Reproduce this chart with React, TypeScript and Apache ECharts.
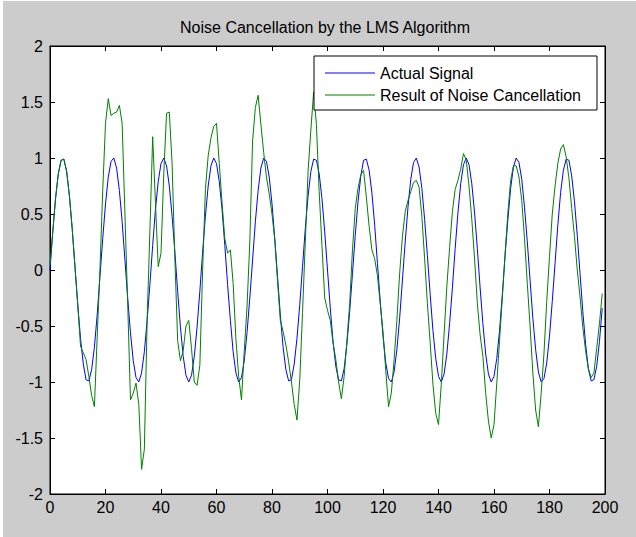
import React, { useEffect, useRef } from "react";
import * as echarts from "echarts";

const titleText = "Noise Cancellation by the LMS Algorithm";
const seriesNames = ["Actual Signal", "Result of Noise Cancellation"];

// sample index 0..199 is the array position
const actualSignal = [
  0.00, 0.34, 0.64, 0.86, 0.98, 0.99, 0.88, 0.66, 0.37, 0.03,
  -0.31, -0.61, -0.84, -0.98, -0.99, -0.89, -0.69, -0.40, -0.06, 0.28,
  0.59, 0.83, 0.97, 1.00, 0.91, 0.71, 0.43, 0.09, -0.25, -0.56,
  -0.81, -0.96, -1.00, -0.92, -0.73, -0.45, -0.13, 0.22, 0.54, 0.79,
  0.95, 1.00, 0.93, 0.75, 0.48, 0.16, -0.19, -0.51, -0.77, -0.94,
  -1.00, -0.94, -0.77, -0.51, -0.19, 0.16, 0.48, 0.75, 0.93, 1.00,
  0.95, 0.79, 0.54, 0.22, -0.13, -0.45, -0.73, -0.92, -1.00, -0.96,
  -0.81, -0.56, -0.25, 0.09, 0.43, 0.71, 0.91, 1.00, 0.97, 0.83,
  0.59, 0.28, -0.06, -0.40, -0.69, -0.89, -0.99, -0.98, -0.84, -0.61,
  -0.31, 0.03, 0.37, 0.66, 0.88, 0.99, 0.98, 0.86, 0.64, 0.34,
  0.00, -0.34, -0.64, -0.86, -0.98, -0.99, -0.88, -0.66, -0.37, -0.03,
  0.31, 0.61, 0.84, 0.98, 0.99, 0.89, 0.69, 0.40, 0.06, -0.28,
  -0.59, -0.83, -0.97, -1.00, -0.91, -0.71, -0.43, -0.09, 0.25, 0.56,
  0.81, 0.96, 1.00, 0.92, 0.73, 0.45, 0.13, -0.22, -0.54, -0.79,
  -0.95, -1.00, -0.93, -0.75, -0.48, -0.16, 0.19, 0.51, 0.77, 0.94,
  1.00, 0.94, 0.77, 0.51, 0.19, -0.16, -0.48, -0.75, -0.93, -1.00,
  -0.95, -0.79, -0.54, -0.22, 0.13, 0.45, 0.73, 0.92, 1.00, 0.96,
  0.81, 0.56, 0.25, -0.09, -0.43, -0.71, -0.91, -1.00, -0.97, -0.83,
  -0.59, -0.28, 0.06, 0.40, 0.69, 0.89, 0.99, 0.98, 0.84, 0.61,
  0.31, -0.03, -0.37, -0.66, -0.88, -0.99, -0.98, -0.86, -0.64, -0.34,
];

const noiseCancelled = [
  0.05, 0.34, 0.64, 0.86, 0.98, 0.99, 0.88, 0.66, 0.37, 0.03,
  -0.31, -0.68, -0.74, -0.80, -0.95, -1.12, -1.22, -0.60, 0.00, 0.71,
  1.31, 1.53, 1.38, 1.40, 1.41, 1.47, 1.31, 0.50, -0.30, -1.16,
  -1.10, -1.01, -1.20, -1.78, -1.60, -0.45, 0.35, 1.19, 0.60, 0.03,
  0.15, 0.86, 1.40, 1.41, 0.95, 0.10, -0.63, -0.81, -0.72, -0.50,
  -0.45, -0.70, -1.00, -1.03, -0.85, 0.00, 0.72, 1.02, 1.18, 1.28,
  1.31, 0.95, 0.60, 0.28, 0.15, 0.18, -0.12, -0.62, -0.95, -1.16,
  -0.72, -0.33, 0.25, 1.15, 1.45, 1.56, 1.30, 1.05, 0.83, 0.68,
  0.50, 0.27, -0.10, -0.45, -0.55, -0.67, -0.82, -1.00, -1.20, -1.34,
  -0.98, -0.38, 0.25, 0.88, 1.25, 1.59, 1.30, 0.70, 0.22, -0.25,
  -0.36, -0.45, -0.65, -0.80, -1.00, -1.15, -0.95, -0.63, -0.30, 0.18,
  0.55, 0.73, 0.85, 0.89, 0.65, 0.39, 0.18, 0.10, -0.05, -0.30,
  -0.55, -0.90, -1.22, -1.10, -0.80, -0.45, -0.03, 0.30, 0.52, 0.62,
  0.70, 0.78, 0.80, 0.74, 0.48, 0.10, -0.30, -0.65, -1.02, -1.28,
  -1.38, -1.02, -0.58, -0.15, 0.20, 0.52, 0.72, 0.80, 0.90, 1.04,
  0.98, 0.75, 0.45, 0.10, -0.30, -0.58, -0.77, -1.10, -1.35, -1.50,
  -1.38, -1.01, -0.63, -0.25, 0.15, 0.51, 0.80, 0.93, 0.93, 0.83,
  0.62, 0.28, -0.12, -0.50, -0.92, -1.25, -1.40, -1.10, -0.75, -0.28,
  0.12, 0.50, 0.75, 0.95, 1.08, 1.12, 1.01, 0.82, 0.55, 0.30,
  0.00, -0.24, -0.51, -0.72, -0.88, -0.96, -0.92, -0.70, -0.48, -0.21,
];

const xRange = [0, 200];
const xStep = 20;
const yRange = [-2, 2];
const yStep = 0.5;

const FONT = "'Liberation Sans', Arial, sans-serif";

export default function App() {
  const ref = useRef<HTMLDivElement>(null);

  useEffect(() => {
    if (!ref.current) return;
    const chart = echarts.init(ref.current, undefined, { renderer: "svg" });
    const tick = { show: true, inside: true, length: 5, lineStyle: { color: "#000", width: 1 } };
    const line = { show: true, onZero: false, lineStyle: { color: "#000", width: 1 } };
    const label = { color: "#000", fontSize: 16, fontFamily: FONT };
    chart.setOption({
      animation: false,
      backgroundColor: "#cccccc",
      graphic: [
        {
          type: "text",
          x: 322,
          y: 26,
          style: {
            text: titleText,
            fill: "#000",
            font: `16px ${FONT}`,
            textAlign: "center",
            textVerticalAlign: "middle",
          },
        },
      ],
      grid: {
        left: 47,
        top: 45,
        width: 555,
        height: 448,
        show: true,
        backgroundColor: "#ffffff",
        borderColor: "#000",
        borderWidth: 1,
      },
      legend: {
        data: seriesNames,
        orient: "vertical",
        left: 311,
        top: 55,
        backgroundColor: "#ffffff",
        borderColor: "#000",
        borderWidth: 1,
        borderRadius: 0,
        padding: [8, 16, 6, 11],
        itemGap: 4,
        icon: "rect",
        itemWidth: 50,
        itemHeight: 1,
        textStyle: { color: "#000", fontSize: 16, fontFamily: FONT, lineHeight: 18 },
      },
      xAxis: [
        {
          type: "value",
          min: xRange[0],
          max: xRange[1],
          interval: xStep,
          axisLine: line,
          axisTick: tick,
          axisLabel: { ...label, margin: 5 },
          splitLine: { show: false },
        },
        {
          type: "value",
          position: "top",
          min: xRange[0],
          max: xRange[1],
          interval: xStep,
          axisLine: line,
          axisTick: tick,
          axisLabel: { show: false },
          splitLine: { show: false },
        },
      ],
      yAxis: [
        {
          type: "value",
          min: yRange[0],
          max: yRange[1],
          interval: yStep,
          axisLine: line,
          axisTick: tick,
          axisLabel: { ...label, margin: 7 },
          splitLine: { show: false },
        },
        {
          type: "value",
          position: "right",
          min: yRange[0],
          max: yRange[1],
          interval: yStep,
          axisLine: line,
          axisTick: tick,
          axisLabel: { show: false },
          splitLine: { show: false },
        },
      ],
      series: [
        {
          name: seriesNames[0],
          type: "line",
          xAxisIndex: 0,
          yAxisIndex: 0,
          data: actualSignal.map((v, i) => [i, v]),
          symbol: "none",
          showSymbol: false,
          lineStyle: { color: "#0000ff", width: 1 },
          itemStyle: { color: "#0000ff" },
          z: 2,
        },
        {
          name: seriesNames[1],
          type: "line",
          xAxisIndex: 0,
          yAxisIndex: 0,
          data: noiseCancelled.map((v, i) => [i, v]),
          symbol: "none",
          showSymbol: false,
          lineStyle: { color: "#008000", width: 1 },
          itemStyle: { color: "#008000" },
          z: 3,
        },
      ],
    });
    return () => chart.dispose();
  }, []);

  return (
    <div style={{ position: "fixed", left: 0, top: 0, width: 636, height: 537, background: "#ffffff" }}>
      <div ref={ref} style={{ position: "absolute", left: 3, top: 1, width: 633, height: 536 }} />
    </div>
  );
}
